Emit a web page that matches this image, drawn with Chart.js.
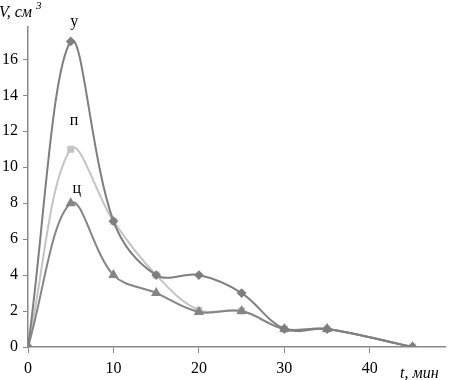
<!DOCTYPE html>
<html><head><meta charset="utf-8">
<script src="https://cdn.jsdelivr.net/npm/chart.js@4"></script>
<style>html,body{margin:0;padding:0;background:#fff;}#wrap{width:451px;height:380px;position:relative;}</style>
</head><body><div id="wrap"><canvas id="c" width="451" height="380"></canvas></div>
<script>
const times = [0, 5, 10, 15, 20, 25, 30, 35, 45];
const seriesU = [0, 17, 7, 4, 4, 3, 1, 1, 0];
const seriesP = [0, 11, 7, 4, 2.05, 2, 1, 1, 0];
const seriesC = [0, 8, 4, 3, 1.95, 2, 1, 1, 0];
const xTicks = [0, 10, 20, 30, 40];
const yTicks = [0, 2, 4, 6, 8, 10, 12, 14, 16];
const seriesNames = ['у', 'п', 'ц'];
const labelPos = [[5.4, 18.1], [5.4, 12.6], [5.7, 8.8]];

const toPts = arr => times.map((t, i) => ({x: t, y: arr[i]}));
const FONT = '"Liberation Serif", "Times New Roman", serif';

const annot = {
  id: 'annot',
  afterDraw(chart) {
    const ctx = chart.ctx, xs = chart.scales.x, ys = chart.scales.y;
    ctx.save();
    ctx.fillStyle = '#000';
    ctx.font = '16px ' + FONT;
    ctx.textAlign = 'center';
    ctx.textBaseline = 'middle';
    seriesNames.forEach((n, i) => {
      ctx.fillText(n, xs.getPixelForValue(labelPos[i][0]), ys.getPixelForValue(labelPos[i][1]));
    });
    ctx.textAlign = 'left';
    ctx.textBaseline = 'alphabetic';
    ctx.font = 'italic 16px ' + FONT;
    ctx.fillText('V, см', -1, 17);
    const w = ctx.measureText('V, см').width;
    ctx.font = 'italic 11px ' + FONT;
    ctx.fillText('3', -1 + w + 4, 9);
    ctx.font = 'italic 16px ' + FONT;
    ctx.fillText('t, мин', 400, 378);
    ctx.restore();
  }
};

new Chart(document.getElementById('c'), {
  type: 'line',
  data: {
    datasets: [
      {label: seriesNames[0], data: toPts(seriesU), borderColor: '#7f7f7f', backgroundColor: '#7f7f7f', pointStyle: 'rectRot', pointRadius: 3.5, borderWidth: 2, tension: 0.36},
      {label: seriesNames[2], data: toPts(seriesC), borderColor: '#858585', backgroundColor: '#858585', pointStyle: 'triangle', pointRadius: 4, borderWidth: 2, tension: 0.36},
      {label: seriesNames[1], data: toPts(seriesP), borderColor: '#c4c4c4', backgroundColor: '#c4c4c4', pointStyle: 'rect', pointRadius: 3.5, borderWidth: 2, tension: 0.36}
    ]
  },
  options: {
    responsive: false,
    animation: false,
    layout: {padding: {top: 27, right: 0, left: 0, bottom: 0}},
    plugins: {legend: {display: false}, tooltip: {enabled: false}},
    scales: {
      x: {
        type: 'linear', min: 0, max: 48.8,
        afterBuildTicks: s => { s.ticks = xTicks.map(v => ({value: v})); },
        afterFit: s => { s.height = 33; },
        border: {color: '#888', width: 1.5},
        grid: {drawOnChartArea: false, drawTicks: true, tickLength: 6, color: '#888'},
        ticks: {font: {family: FONT, size: 16}, color: '#000', padding: 6, maxRotation: 0}
      },
      y: {
        type: 'linear', min: 0, max: 17.8,
        afterBuildTicks: s => { s.ticks = yTicks.map(v => ({value: v})); },
        afterFit: s => { s.width = 28; },
        border: {color: '#888', width: 1.5},
        grid: {drawOnChartArea: false, drawTicks: true, tickLength: 5, color: '#888'},
        ticks: {font: {family: FONT, size: 16}, color: '#000', padding: 5}
      }
    }
  },
  plugins: [annot]
});
</script>
</body></html>
